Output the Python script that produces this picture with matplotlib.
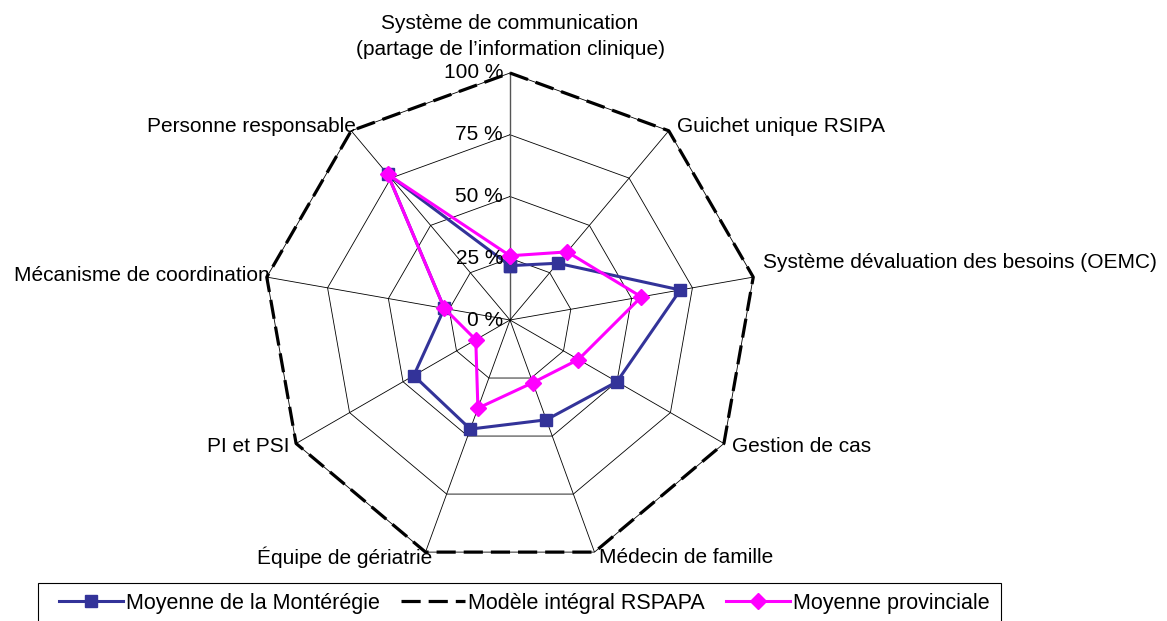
import numpy as np
import matplotlib
matplotlib.use("Agg")
import matplotlib.pyplot as plt
from matplotlib.lines import Line2D
from matplotlib.patches import Rectangle

plt.rcParams['font.family'] = ['Liberation Sans', 'DejaVu Sans']

# Données (en %), axes dans le sens horaire à partir du haut
categories = [
    "Système de communication\n(partage de l\u2019information clinique)",
    "Guichet unique RSIPA",
    "Système dévaluation des besoins (OEMC)",
    "Gestion de cas",
    "Médecin de famille",
    "Équipe de gériatrie",
    "PI et PSI",
    "Mécanisme de coordination",
    "Personne responsable",
]
monteregie = [22, 30, 70, 50, 43, 47, 45, 27, 77]
modele = [100, 100, 100, 100, 100, 100, 100, 100, 100]
provinciale = [26, 36, 54, 32, 27, 38, 16, 27, 77]
niveaux = [0, 25, 50, 75, 100]
niveaux_labels = ["0 %", "25 %", "50 %", "75 %", "100 %"]
series_labels = ["Moyenne de la Montérégie", "Modèle intégral RSPAPA", "Moyenne provinciale"]

BLEU = "#333399"
MAGENTA = "#FF00FF"
FS = 15

# position des étiquettes (décalage en pixels, alignements)
label_pos = [
    ((0, 14), 'center', 'bottom'),
    ((8, 4), 'left', 'center'),
    ((10, 15), 'left', 'center'),
    ((8, -3), 'left', 'center'),
    ((5, -5), 'left', 'center'),
    ((7, -5), 'right', 'center'),
    ((-7, -3), 'right', 'center'),
    ((3, 2), 'right', 'center'),
    ((5, 4), 'right', 'center'),
]

n = len(categories)
theta = np.arange(n) * 2 * np.pi / n
theta_c = np.append(theta, theta[0])

def ferme(v):
    return list(v) + [v[0]]

fig = plt.figure(figsize=(11.67, 6.21), dpi=100)
R = 247
cx, cy = 510, 621 - 320
ax = fig.add_axes([(cx - R) / 1167, (cy - R) / 621, 2 * R / 1167, 2 * R / 621],
                  projection='polar')
ax.set_theta_zero_location('N')
ax.set_theta_direction(-1)
ax.set_ylim(0, 100)
ax.grid(False)
ax.spines['polar'].set_visible(False)
ax.set_xticks([])
ax.set_yticks([])

# grille polygonale
for r in niveaux[1:]:
    ax.plot(theta_c, [r] * (n + 1), color='black', lw=0.6, clip_on=False, zorder=1)
for i, t in enumerate(theta):
    ax.plot([t, t], [0, 100], color='#555555' if i == 0 else 'black',
            lw=1.0 if i == 0 else 0.6, zorder=1)

# séries
ax.plot(theta_c, ferme(modele), color='black', lw=2.3, dashes=(6, 2.5),
        clip_on=False, zorder=3)
ax.plot(theta_c, ferme(monteregie), color=BLEU, lw=2.2, marker='s', ms=8,
        mfc=BLEU, mec=BLEU, clip_on=False, zorder=4)
ax.plot(theta_c, ferme(provinciale), color=MAGENTA, lw=2.2, marker='D', ms=8,
        mfc=MAGENTA, mec=MAGENTA, clip_on=False, zorder=5)

# étiquettes de l'axe des valeurs
for r, lab in zip(niveaux, niveaux_labels):
    ax.annotate(lab, xy=(0, r), xytext=(-7, 0), textcoords='offset pixels',
                ha='right', va='center', fontsize=FS, zorder=6,
                annotation_clip=False)

# étiquettes des catégories
for t, lab, (off, ha, va) in zip(theta, categories, label_pos):
    ax.annotate(lab, xy=(t, 100), xytext=off, textcoords='offset pixels',
                ha=ha, va=va, fontsize=FS, linespacing=1.45,
                multialignment='center', annotation_clip=False)

# légende
handles = [
    Line2D([], [], color=BLEU, lw=2.2, marker='s', ms=8),
    Line2D([], [], color='black', lw=2.3, dashes=(6, 2.5)),
    Line2D([], [], color=MAGENTA, lw=2.2, marker='D', ms=8),
]
fig.legend(handles, series_labels, ncol=3, loc='center left',
           bbox_to_anchor=(59 / 1167, 1 - 603 / 621), fontsize=15.5,
           frameon=False, handlelength=2.95, handletextpad=0.15,
           columnspacing=1.0, borderpad=0, borderaxespad=0)
fig.patches.append(Rectangle((38 / 1167, -0.05), (1001 - 38) / 1167,
                             0.05 + 1 - 583 / 621, transform=fig.transFigure,
                             fill=False, edgecolor='black', lw=0.8))

fig.savefig("out.png", dpi=100)
